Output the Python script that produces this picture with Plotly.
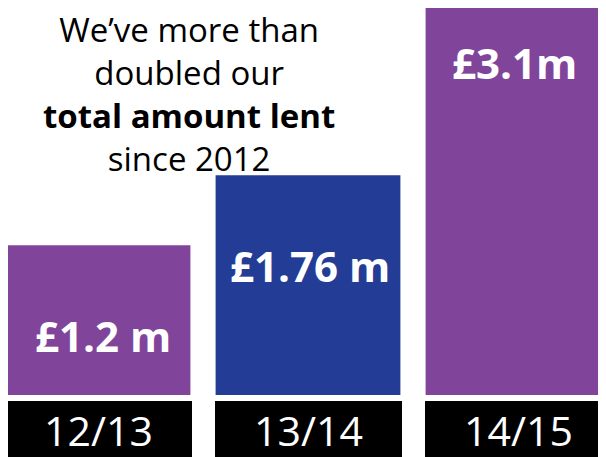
import plotly.graph_objects as go

categories = ["12/13", "13/14", "14/15"]
amounts_m = [1.2, 1.76, 3.1]
value_labels = ["£1.2 m", "£1.76 m", "£3.1m"]
bar_colors = ["#80459A", "#233D96", "#80459A"]
headline = ["We’ve more than", "doubled our", "<b>total amount lent</b>", "since 2012"]

FONT = "Open Sans"
# page body has an 8px margin; figure is sized to the visible area
W, H = 598, 449
PLOT_H = 386.7

fig = go.Figure()
fig.add_trace(go.Bar(
    x=categories, y=amounts_m, marker=dict(color=bar_colors, line=dict(width=0)),
    hoverinfo="skip", showlegend=False,
))

ann = []
label_shift = [60, 130, 333]
label_xshift = [5, 2, -4]
for c, t, ys, xs in zip(categories, value_labels, label_shift, label_xshift):
    ann.append(dict(x=c, y=0, xref="x", yref="y", text=f"<b>{t}</b>", showarrow=False,
                    yanchor="middle", xanchor="center", yshift=ys, xshift=xs,
                    font=dict(family=FONT, size=42, color="white")))
for c in categories:
    ann.append(dict(x=c, y=0, xref="x", yref="y", text=c, showarrow=False,
                    yanchor="top", xanchor="center", yshift=-5.5,
                    width=187, height=57, bgcolor="black", borderpad=0, borderwidth=0,
                    valign="middle",
                    font=dict(family=FONT, size=41, color="white")))
ann.append(dict(x=181 / W, y=1 - (94 - 8) / PLOT_H, xref="paper", yref="paper",
                text="<br>".join(headline), align="center",
                showarrow=False, xanchor="center", yanchor="middle", borderpad=0,
                font=dict(family=FONT, size=33, color="black")))

fig.update_layout(
    width=W, height=H,
    margin=dict(l=0, r=0, t=0, b=H - PLOT_H, pad=0),
    paper_bgcolor="white", plot_bgcolor="white",
    bargap=0.12,
    xaxis=dict(range=[-90 / 210, 508 / 210], showgrid=False, zeroline=False,
               showticklabels=False, showline=False, fixedrange=True),
    yaxis=dict(range=[0, 3.1], showgrid=False, zeroline=False,
               showticklabels=False, showline=False, fixedrange=True),
    annotations=ann,
)
fig.write_html("out.html")
